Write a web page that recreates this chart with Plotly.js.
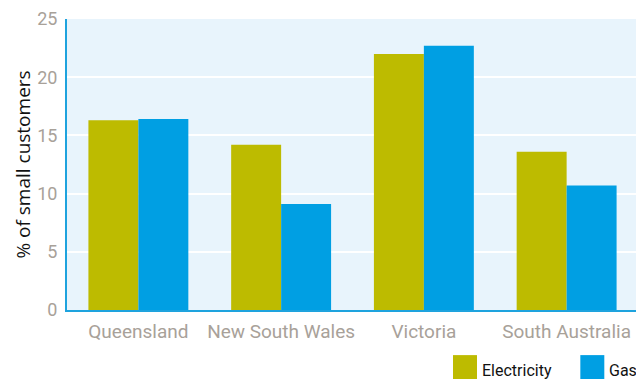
<!DOCTYPE html>
<html>
<head>
<meta charset="utf-8">
<script src="https://cdn.plot.ly/plotly-3.0.1.min.js"></script>
<style>
  html, body { margin: 0; padding: 0; overflow: hidden; background: #fff; }
  #chart { width: 640px; height: 379px; }
</style>
</head>
<body>
<div id="chart"></div>
<script>
// States compared
const states = ['Queensland', 'New South Wales', 'Victoria', 'South Australia'];

// Share of small customers (%) by fuel
const electricity = [16.3, 14.2, 22.0, 13.6];
const gas = [16.4, 9.1, 22.7, 10.7];

const seriesNames = ['Electricity', 'Gas'];
const seriesColors = ['#BDBB00', '#009FE3'];

const yTicks = [0, 5, 10, 15, 20, 25];

const traces = [electricity, gas].map((vals, i) => ({
  type: 'bar',
  name: seriesNames[i],
  x: states,
  y: vals,
  marker: { color: seriesColors[i], line: { width: 0 } },
  hoverinfo: 'x+y+name'
}));

// Hand-drawn legend: large square swatches with labels beneath the plot
const legendX = [0.676, 0.899];
const swatchW = 0.042;
const shapes = seriesNames.map((n, i) => ({
  type: 'rect', xref: 'paper', yref: 'paper',
  x0: legendX[i], x1: legendX[i] + swatchW,
  y0: -0.155, y1: -0.245,
  fillcolor: seriesColors[i], line: { width: 0 }
}));
const annotations = seriesNames.map((n, i) => ({
  xref: 'paper', yref: 'paper',
  x: legendX[i] + swatchW + 0.005, y: -0.208,
  xanchor: 'left', yanchor: 'middle',
  text: n, showarrow: false,
  font: { family: 'Roboto, sans-serif', size: 16, color: '#111111' }
}));

const tickColor = '#A8A199';

const layout = {
  width: 640, height: 379,
  margin: { l: 67, r: 2, t: 19, b: 69 },
  paper_bgcolor: '#ffffff',
  plot_bgcolor: '#E8F4FC',
  barmode: 'group',
  bargap: 0.3,
  bargroupgap: 0,
  showlegend: false,
  xaxis: {
    type: 'category',
    tickfont: { family: 'Roboto, sans-serif', size: 19, color: tickColor },
    showline: true, linecolor: '#1EA3DE', linewidth: 2,
    ticks: '', ticklabelstandoff: 3,
    showgrid: false, zeroline: false,
    fixedrange: true
  },
  yaxis: {
    range: [0, 25],
    tickvals: yTicks,
    ticktext: yTicks.map(String),
    tickfont: { family: 'Roboto, sans-serif', size: 18, color: tickColor },
    showline: true, linecolor: '#1EA3DE', linewidth: 2,
    ticks: '', ticklabelstandoff: 4,
    showgrid: true, gridcolor: '#ffffff', gridwidth: 2,
    zeroline: false,
    title: { text: '% of small customers', font: { family: 'Open Sans, sans-serif', size: 19, color: '#111111' }, standoff: 2 },
    fixedrange: true
  },
  shapes: shapes,
  annotations: annotations
};

Plotly.newPlot('chart', traces, layout, { displayModeBar: false, staticPlot: true });
</script>
</body>
</html>
